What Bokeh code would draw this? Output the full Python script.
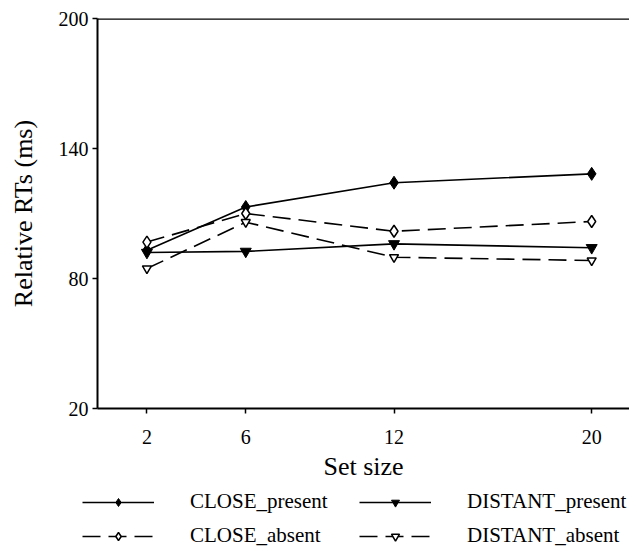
import numpy as np
from bokeh.plotting import figure
from bokeh.layouts import column, row
from bokeh.models import Range1d, FixedTicker, Legend, LegendItem, Span
from bokeh.embed import file_html
from bokeh.resources import INLINE

# ---- data ----
set_sizes = [2, 6, 12, 20]
close_present = [93.0, 113.0, 124.2, 128.3]
close_absent = [96.8, 110.0, 101.8, 106.3]
distant_present = [92.0, 92.5, 96.0, 94.2]
distant_absent = [84.6, 106.0, 89.8, 88.3]
y_ticks = [20, 80, 140, 200]
series_names = ["CLOSE_present", "CLOSE_absent", "DISTANT_present", "DISTANT_absent"]

FONT = "Liberation Serif"
DASH = "18 8"
LW = 1.6

# style of each series: (line_dash, marker, size, fill, marker line width)
styles = {
    "CLOSE_present": ("solid", "diamond", 13, "black", 1.0),
    "CLOSE_absent": (DASH, "diamond", 12, "white", 1.5),
    "DISTANT_present": ("solid", "inverted_triangle", 11, "black", 1.0),
    "DISTANT_absent": (DASH, "inverted_triangle", 9, "white", 1.5),
}
values = {
    "CLOSE_present": close_present,
    "CLOSE_absent": close_absent,
    "DISTANT_present": distant_present,
    "DISTANT_absent": distant_absent,
}

W = 629
H_MAIN = 490
H_LEG = 58

p = figure(width=W, height=H_MAIN, output_backend="svg", toolbar_location=None,
           x_range=Range1d(0, 21.53), y_range=Range1d(20, 200),
           min_border_left=97, min_border_right=0, min_border_top=18,
           min_border_bottom=82, background_fill_color="white")
p.xgrid.visible = False
p.ygrid.visible = False
p.outline_line_color = None

for ax in (p.xaxis[0], p.yaxis[0]):
    ax.axis_line_width = 2
    ax.axis_line_color = "black"
    ax.major_tick_line_width = 1.5
    ax.major_tick_line_color = "black"
    ax.major_tick_out = 5
    ax.major_tick_in = 0
    ax.minor_tick_line_color = None
    ax.major_label_text_font = FONT
    ax.major_label_text_font_size = "20px"
    ax.major_label_text_color = "black"
    ax.axis_label_text_font = FONT
    ax.axis_label_text_font_size = "26px"
    ax.axis_label_text_font_style = "normal"
    ax.axis_label_text_color = "black"

p.xaxis.ticker = FixedTicker(ticks=set_sizes)
p.yaxis.ticker = FixedTicker(ticks=y_ticks)
p.xaxis.axis_label = "Set size"
p.yaxis.axis_label = "Relative RTs (ms)"
p.xaxis.major_label_standoff = 16
p.xaxis.axis_label_standoff = 5
p.yaxis.major_label_standoff = 4
p.yaxis.axis_label_standoff = 18

# top border line
p.add_layout(Span(location=200, dimension="width", line_color="black", line_width=2.5))

for name in series_names:
    dash, marker, size, fill, mlw = styles[name]
    p.line(set_sizes, values[name], line_color="black", line_width=LW, line_dash=dash)
    p.scatter(set_sizes, values[name], marker=marker, size=size,
              fill_color=fill, line_color="black", line_width=mlw)

# ---- legend strip below the chart ----
q = figure(width=W, height=H_LEG, output_backend="svg", toolbar_location=None,
           x_range=Range1d(0, 1), y_range=Range1d(0, 1),
           x_axis_type=None, y_axis_type=None, min_border=0,
           min_border_left=0, min_border_right=0, min_border_top=0, min_border_bottom=0,
           background_fill_color="white")
q.xgrid.visible = False
q.ygrid.visible = False
q.outline_line_color = None

# legend-sample renderers: their single point lies outside the visible range
off = [-5]
items = []
for name in series_names:
    dash, marker, size, fill, mlw = styles[name]
    lr = q.line(off, off, line_color="black", line_width=LW, line_dash=dash)
    sr = q.scatter(off, off, marker=marker, size=size, fill_color=fill,
                   line_color="black", line_width=mlw)
    items.append(LegendItem(label=name, renderers=[lr, sr]))

legend = Legend(items=items, ncols=2, location=(82, 0),
                label_text_font=FONT, label_text_font_size="21px",
                label_text_color="black",
                glyph_width=72, glyph_height=20, label_standoff=36,
                label_width=160,
                spacing=9, padding=0, margin=0,
                border_line_color=None, background_fill_alpha=0)
q.add_layout(legend)

open("out.html", "w").write(file_html(column(p, row(q)), INLINE))
